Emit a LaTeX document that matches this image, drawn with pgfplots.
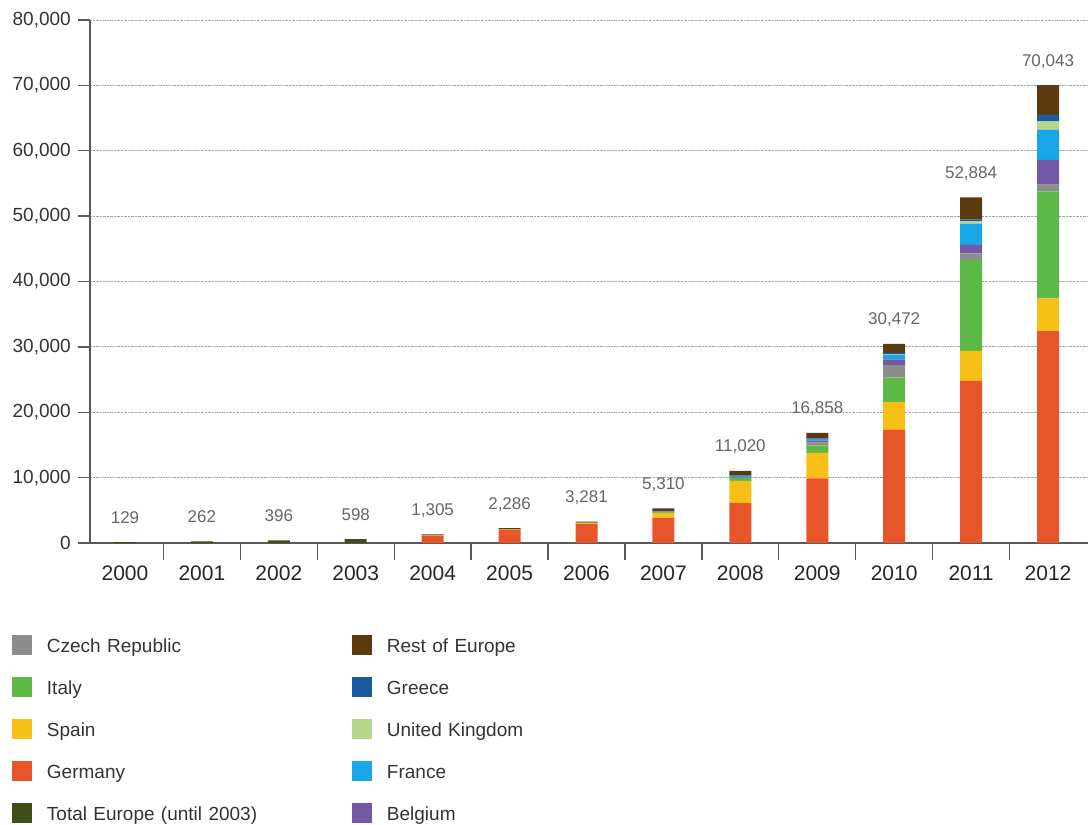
\documentclass[border=0pt]{standalone}
\usepackage{pgfplots}
\pgfplotsset{compat=1.18}
\usepackage{pgfplotstable}
\usepackage{fontspec}
\setmainfont{Liberation Sans}

\definecolor{cGermany}{HTML}{E8552A}
\definecolor{cSpain}{HTML}{F8C016}
\definecolor{cItaly}{HTML}{5CB946}
\definecolor{cCzech}{HTML}{8C8C8C}
\definecolor{cBelgium}{HTML}{7458A4}
\definecolor{cFrance}{HTML}{18A6E8}
\definecolor{cUK}{HTML}{B4D78E}
\definecolor{cGreece}{HTML}{1C5AA0}
\definecolor{cRest}{HTML}{5B3A0E}
\definecolor{cTotal}{HTML}{3F4D17}

% cumulative capacity (MW), x = 0 for 2000 ... 12 for 2012
% tot = Total Europe (until 2003), sum = bar total shown above each bar
\pgfplotstableread{
x  tot de    es   it    cz   be   fr   uk   gr   rest sum
0  129 0     0    0     0    0    0    0    0    0    129
1  262 0     0    0     0    0    0    0    0    0    262
2  396 0     0    0     0    0    0    0    0    0    396
3  598 0     0    0     0    0    0    0    0    0    598
4  0   1100  20   30    0    0    0    0    0    155  1305
5  0   2000  60   40    0    0    0    0    0    186  2286
6  0   2900  150  50    0    0    0    0    0    181  3281
7  0   3900  700  100   4    20   75   18   9    484  5310
8  0   6100  3400 450   65   70   180  20   55   680  11020
9  0   9900  3900 1150  460  300  200  30   50   868  16858
10 0   17300 4300 3700  1900 900  700  100  200  1372 30472
11 0   24800 4600 13900 1000 1300 3200 400  300  3384 52884
12 0   32400 5000 16400 1000 3800 4600 1300 1000 4543 70043
}\pvdata

\pgfplotsset{
  pvframe/.style={
    width=998pt, height=523pt, scale only axis,
    xmin=-0.455, xmax=12.52, ymin=0, ymax=80000,
  },
}

\begin{document}
\begin{tikzpicture}
\useasboundingbox (-90pt,-282pt) rectangle (998pt,543pt);
\begin{axis}[
  pvframe,
  ybar stacked, bar width=22pt,
  axis lines*=left,
  axis line style={draw=black!65, line width=1.3pt},
  tick align=outside,
  xtick={0,...,12},
  xticklabels={2000,2001,2002,2003,2004,2005,2006,2007,2008,2009,2010,2011,2012},
  minor xtick={0.5,1.5,...,11.5},
  major x tick style={draw=none},
  minor x tick style={draw=black!65, line width=1.3pt},
  minor tick length=17pt,
  major tick length=12pt,
  y tick style={draw=black!65, line width=1.3pt},
  ytick={0,10000,...,80000},
  scaled y ticks=false,
  ymajorgrids,
  grid style={densely dotted, black!35, line width=0.8pt},
  /pgf/number format/.cd, 1000 sep={,}, assume math mode=true,
  /pgfplots/.cd,
  xticklabel style={font=\fontsize{21}{24}\selectfont, text=black!85, anchor=north, inner sep=0pt, yshift=-11pt},
  yticklabel style={font=\fontsize{19}{22}\selectfont, text=black!80, anchor=east, inner sep=0pt, xshift=-7pt},
  legend columns=2,
  legend cell align=left,
  legend image code/.code={\path[#1, draw=none] (0pt,-8pt) rectangle (20pt,12pt);},
  legend style={at={(-0.0782,-0.176)}, anchor=north west, draw=none, fill=none,
    inner sep=0pt, outer sep=0pt, row sep=21pt,
    font=\fontsize{19}{22}\selectfont, text=black!80,
    nodes={inner sep=0pt, text height=14pt, text depth=4pt, text width=305pt},
    /tikz/every odd column/.append style={column sep=15pt}},
]
\addplot[fill=cTotal, draw=none, forget plot] table[x=x, y=tot] {\pvdata};
\addplot[fill=cGermany, draw=none, forget plot] table[x=x, y=de] {\pvdata};
\addplot[fill=cSpain, draw=none, forget plot] table[x=x, y=es] {\pvdata};
\addplot[fill=cItaly, draw=none, forget plot] table[x=x, y=it] {\pvdata};
\addplot[fill=cCzech, draw=none, forget plot] table[x=x, y=cz] {\pvdata};
\addplot[fill=cBelgium, draw=none, forget plot] table[x=x, y=be] {\pvdata};
\addplot[fill=cFrance, draw=none, forget plot] table[x=x, y=fr] {\pvdata};
\addplot[fill=cUK, draw=none, forget plot] table[x=x, y=uk] {\pvdata};
\addplot[fill=cGreece, draw=none, forget plot] table[x=x, y=gr] {\pvdata};
\addplot[fill=cRest, draw=none, forget plot] table[x=x, y=rest] {\pvdata};

\addlegendimage{fill=cCzech}\addlegendentry{Czech Republic}
\addlegendimage{fill=cRest}\addlegendentry{Rest of Europe}
\addlegendimage{fill=cItaly}\addlegendentry{Italy}
\addlegendimage{fill=cGreece}\addlegendentry{Greece}
\addlegendimage{fill=cSpain}\addlegendentry{Spain}
\addlegendimage{fill=cUK}\addlegendentry{United Kingdom}
\addlegendimage{fill=cGermany}\addlegendentry{Germany}
\addlegendimage{fill=cFrance}\addlegendentry{France}
\addlegendimage{fill=cTotal}\addlegendentry{Total Europe (until 2003)}
\addlegendimage{fill=cBelgium}\addlegendentry{Belgium}
\end{axis}

% totals above the bars
\begin{axis}[
  pvframe, hide axis,
  /pgf/number format/.cd, 1000 sep={,}, assume math mode=true,
  /pgfplots/.cd,
  nodes near coords style={font=\fontsize{17}{20}\selectfont, text=black!60,
    inner sep=0pt, anchor=base, yshift=19pt},
]
\addplot[draw=none, mark=none, point meta=explicit, nodes near coords]
  table[x=x, y=sum, meta=sum] {\pvdata};
\end{axis}
\end{tikzpicture}
\end{document}
